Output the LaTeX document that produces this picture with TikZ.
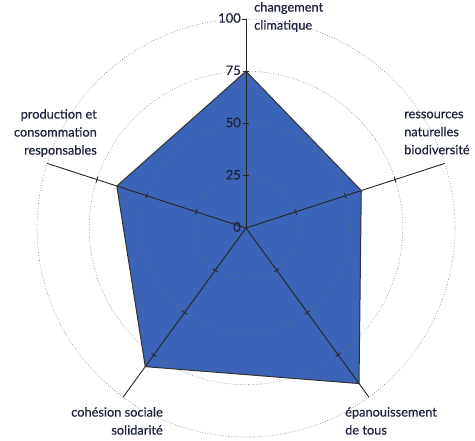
\documentclass[tikz,border=0pt]{standalone}
\usepackage{fontspec}
\setmainfont{Lato}
\newfontfamily\labelfont[BoldFont=Lato, BoldFeatures={FakeBold=0.5}]{Lato}
\usetikzlibrary{calc}
\definecolor{radarblue}{RGB}{59,99,184}
\definecolor{textdark}{RGB}{30,35,60}
\tikzset{
  axe/.style={draw=black!85, line width=0.9pt},
  cercle/.style={draw=black!55, dotted, line width=0.6pt},
  contour/.style={draw=black!80, line width=1pt, line join=round},
  etiquette/.style={text=textdark, font=\labelfont\bfseries\fontsize{12.8}{18}\selectfont, inner sep=0pt},
  valeur/.style={text=textdark, font=\labelfont\bfseries\fontsize{13}{14}\selectfont, inner sep=1pt, anchor=east}
}
\begin{document}
\begin{tikzpicture}[x=1pt,y=1pt]
\useasboundingbox (-246,-213) rectangle (229,228);
\coordinate (O) at (0,0);
% extremites des axes et sommets
\foreach \i/\ang in {1/90,2/18,3/-54,4/-126,5/162}
  \coordinate (a\i) at (\ang:209);
\foreach \i/\ang/\val in {1/90/75,2/18/58,3/-54/92,4/-126/82,5/162/65}
  \coordinate (v\i) at (\ang:2.09*\val);
\fill[radarblue] (v1) -- (v2) -- (v3) -- (v4) -- (v5) -- cycle;
\foreach \r in {25,50,75,100}
  \draw[cercle] (O) circle (2.09*\r);
\foreach \i in {1,...,5}
  \draw[axe] (O) -- (a\i);
\draw[contour] (v1) -- (v2) -- (v3) -- (v4) -- (v5) -- cycle;
% graduations
\foreach \ang in {90,18,-54,-126,162}
  \foreach \r in {25,50,75}
    \draw[axe,rotate=\ang] (2.09*\r,-3) -- (2.09*\r,3);
\draw[axe] (-4,209) -- (a1);
\foreach \r in {0,25,50,75,100}
  \node[valeur] (g\r) at (-4,2.09*\r+1) {\r};
% libelles
\node[etiquette, anchor=north west, align=left] (clim) at (8,226) {changement\\climatique};
\node[etiquette, anchor=west, align=left] (ress) at (158,95) {ressources\\naturelles\\biodiversité};
\node[etiquette, anchor=north west, align=left] (epan) at (99,-179) {épanouissement\\de tous};
\node[etiquette, anchor=north east, align=right] (cohe) at (-83,-179) {cohésion sociale\\solidarité};
\node[etiquette, anchor=east, align=right] (prod) at (-149,95) {production et\\consommation\\responsables};
\end{tikzpicture}
\end{document}
